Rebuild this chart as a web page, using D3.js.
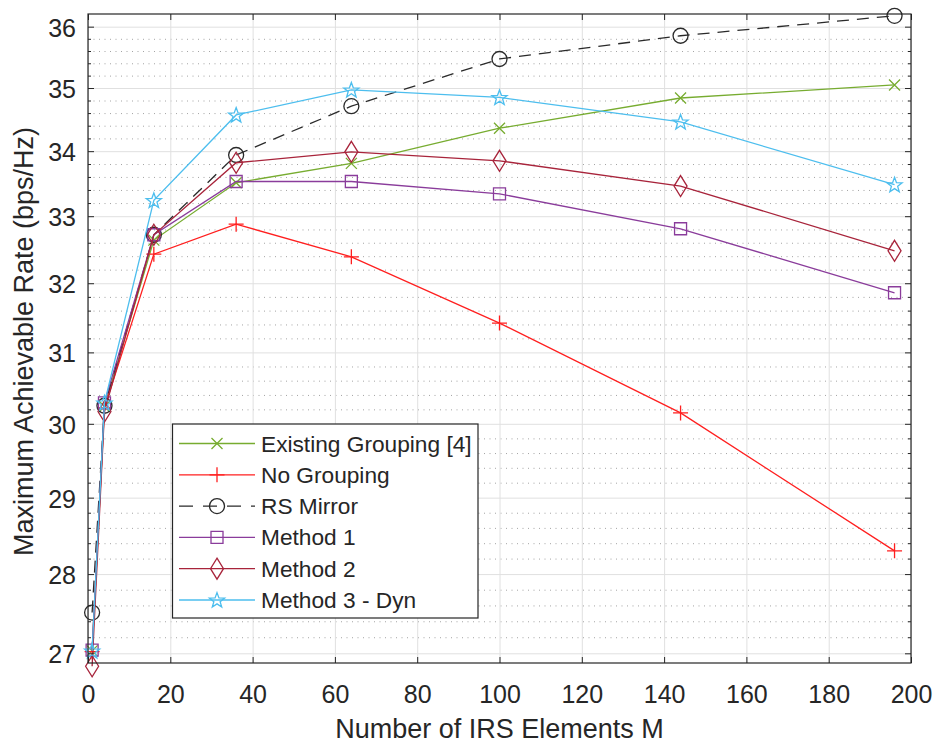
<!DOCTYPE html>
<html>
<head>
<meta charset="utf-8">
<script src="https://cdn.jsdelivr.net/npm/d3@7"></script>
<style>
  body { margin: 0; background: #fff; }
  svg text { font-family: "Liberation Sans", Arial, Helvetica, sans-serif; fill: #262626; }
</style>
</head>
<body>
<svg id="chart" width="940" height="743"></svg>
<script>
// data
const M = [1, 4, 16, 36, 64, 100, 144, 196];
const existingGrouping = [27.03, 30.24, 32.64, 33.51, 33.81, 34.36, 34.84, 35.05];
const noGrouping       = [27.02, 30.22, 32.43, 32.88, 32.39, 31.42, 30.15, 28.30];
const rsMirror         = [27.51, 30.25, 32.72, 33.94, 34.71, 35.47, 35.85, 36.18];
const method1          = [27.04, 30.29, 32.72, 33.53, 33.53, 33.34, 32.81, 31.86];
const method2          = [26.84, 30.17, 32.72, 33.82, 33.99, 33.85, 33.46, 32.48];
const method3          = [27.03, 30.29, 33.24, 34.57, 34.97, 34.85, 34.46, 33.48];

const seriesNames = ["Existing Grouping [4]", "No Grouping", "RS Mirror", "Method 1", "Method 2", "Method 3 - Dyn"];
const xTicks = [0, 20, 40, 60, 80, 100, 120, 140, 160, 180, 200];
const yTicks = [27, 28, 29, 30, 31, 32, 33, 34, 35, 36];

const series = [
  {name: seriesNames[0], values: existingGrouping, color: "#77AC30", marker: "x"},
  {name: seriesNames[1], values: noGrouping, color: "#FF1F1F", marker: "plus"},
  {name: seriesNames[2], values: rsMirror, color: "#2a2a2a", marker: "circle", dash: "12,8"},
  {name: seriesNames[3], values: method1, color: "#8A3C9B", marker: "square"},
  {name: seriesNames[4], values: method2, color: "#A8243B", marker: "diamond"},
  {name: seriesNames[5], values: method3, color: "#4DBEEE", marker: "star"}
];

const plotLeft = 88, plotRight = 911, plotTop = 14, plotBottom = 663;
const svg = d3.select("#chart");

const x = d3.scaleLinear().domain([0, 200]).range([plotLeft, plotRight]);
const y = d3.scaleLog().domain([26.88, 36.21]).range([plotBottom, plotTop]);

// minor y values every 0.2 (log axis minor grid)
const yMinor = d3.range(27, 36.21, 0.2).map(d => +d.toFixed(1)).filter(d => !yTicks.includes(d) && d < 36.2);

function markerPath(type) {
  if (type === "x") return "M-5.5,-5.5L5.5,5.5M-5.5,5.5L5.5,-5.5";
  if (type === "plus") return "M-7.5,0H7.5M0,-7.5V7.5";
  if (type === "circle") return "M7.5,0A7.5,7.5 0 1 1 -7.5,0A7.5,7.5 0 1 1 7.5,0Z";
  if (type === "square") return "M-6,-6H6V6H-6Z";
  if (type === "diamond") return "M0,-10.5L6.5,0L0,10.5L-6.5,0Z";
  // pentagram
  const pts = [];
  for (let k = 0; k < 10; k++) {
    const r = k % 2 === 0 ? 8 : 3.3;
    const a = -Math.PI / 2 + k * Math.PI / 5;
    pts.push([r * Math.cos(a), r * Math.sin(a) + 0.6]);
  }
  return "M" + pts.map(p => p[0].toFixed(2) + "," + p[1].toFixed(2)).join("L") + "Z";
}

// grid
svg.append("g")
  .attr("transform", `translate(${plotLeft},0)`)
  .call(d3.axisLeft(y).tickValues(yMinor).tickSize(-(plotRight - plotLeft)).tickFormat(""))
  .call(g => g.select(".domain").remove())
  .selectAll("line").attr("stroke", "#9a9a9a").attr("stroke-dasharray", "1,4.5").attr("stroke-width", 0.9);

svg.append("g")
  .attr("transform", `translate(${plotLeft},0)`)
  .call(d3.axisLeft(y).tickValues(yTicks).tickSize(-(plotRight - plotLeft)).tickFormat(""))
  .call(g => g.select(".domain").remove())
  .selectAll("line").attr("stroke", "#e0e0e0");

svg.append("g")
  .attr("transform", `translate(0,${plotBottom})`)
  .call(d3.axisBottom(x).tickValues(xTicks).tickSize(-(plotBottom - plotTop)).tickFormat(""))
  .call(g => g.select(".domain").remove())
  .selectAll("line").attr("stroke", "#e0e0e0");

// series
const line = d3.line().x((d, i) => x(M[i])).y(d => y(d));
series.forEach(s => {
  const g = svg.append("g");
  g.append("path")
    .attr("d", line(s.values))
    .attr("fill", "none")
    .attr("stroke", s.color)
    .attr("stroke-width", 1.3)
    .attr("stroke-dasharray", s.dash || null);
  g.selectAll("path.mk").data(s.values).join("path")
    .attr("class", "mk")
    .attr("transform", (d, i) => `translate(${x(M[i])},${y(d)})`)
    .attr("d", markerPath(s.marker))
    .attr("fill", "none")
    .attr("stroke", s.color)
    .attr("stroke-width", 1.3);
});

// axes box and ticks
const axisColor = "#262626";
function styleAxis(g) {
  g.select(".domain").remove();
  g.selectAll("line").attr("stroke", axisColor);
}
svg.append("g").attr("transform", `translate(0,${plotBottom})`)
  .call(d3.axisBottom(x).tickValues(xTicks).tickSizeInner(-6).tickSizeOuter(0))
  .call(styleAxis)
  .call(g => g.selectAll("text").attr("y", 40).attr("dy", 0).style("font-size", "25px"));
svg.append("g").attr("transform", `translate(0,${plotTop})`)
  .call(d3.axisTop(x).tickValues(xTicks).tickSizeInner(-6).tickSizeOuter(0).tickFormat(""))
  .call(styleAxis);
svg.append("g").attr("transform", `translate(${plotLeft},0)`)
  .call(d3.axisLeft(y).tickValues(yTicks).tickSizeInner(-6).tickSizeOuter(0).tickFormat(d3.format("d")))
  .call(styleAxis)
  .call(g => g.selectAll("text").attr("x", -12).attr("dy", 9.5).style("font-size", "25px"));
svg.append("g").attr("transform", `translate(${plotLeft},0)`)
  .call(d3.axisLeft(y).tickValues(yMinor).tickSizeInner(-3).tickSizeOuter(0).tickFormat(""))
  .call(styleAxis);
svg.append("g").attr("transform", `translate(${plotRight},0)`)
  .call(d3.axisRight(y).tickValues(yTicks).tickSizeInner(-6).tickSizeOuter(0).tickFormat(""))
  .call(styleAxis);
svg.append("g").attr("transform", `translate(${plotRight},0)`)
  .call(d3.axisRight(y).tickValues(yMinor).tickSizeInner(-3).tickSizeOuter(0).tickFormat(""))
  .call(styleAxis);

svg.append("rect")
  .attr("x", plotLeft).attr("y", plotTop)
  .attr("width", plotRight - plotLeft).attr("height", plotBottom - plotTop)
  .attr("fill", "none").attr("stroke", axisColor).attr("stroke-width", 1.2);

// axis labels
svg.append("text")
  .attr("x", (plotLeft + plotRight) / 2).attr("y", 738)
  .attr("text-anchor", "middle")
  .style("font-size", "27px")
  .text("Number of IRS Elements M");
svg.append("text")
  .attr("transform", `translate(33,${(plotTop + plotBottom) / 2 + 3}) rotate(-90)`)
  .attr("text-anchor", "middle")
  .style("font-size", "27px")
  .text("Maximum Achievable Rate (bps/Hz)");

// legend
const lg = svg.append("g");
lg.append("rect")
  .attr("x", 172.5).attr("y", 424).attr("width", 305.5).attr("height", 194)
  .attr("fill", "#fff").attr("stroke", axisColor).attr("stroke-width", 1.2);
series.forEach((s, i) => {
  const yy = 443.5 + i * 31.3;
  lg.append("line")
    .attr("x1", 179).attr("x2", 255).attr("y1", yy).attr("y2", yy)
    .attr("stroke", s.color).attr("stroke-width", 1.3)
    .attr("stroke-dasharray", s.dash ? "14,10" : null);
  lg.append("path")
    .attr("transform", `translate(217,${yy})`)
    .attr("d", markerPath(s.marker))
    .attr("fill", "none").attr("stroke", s.color).attr("stroke-width", 1.3);
  lg.append("text")
    .attr("x", 261).attr("y", yy + 8)
    .style("font-size", "22.7px")
    .text(s.name);
});
</script>
</body>
</html>
